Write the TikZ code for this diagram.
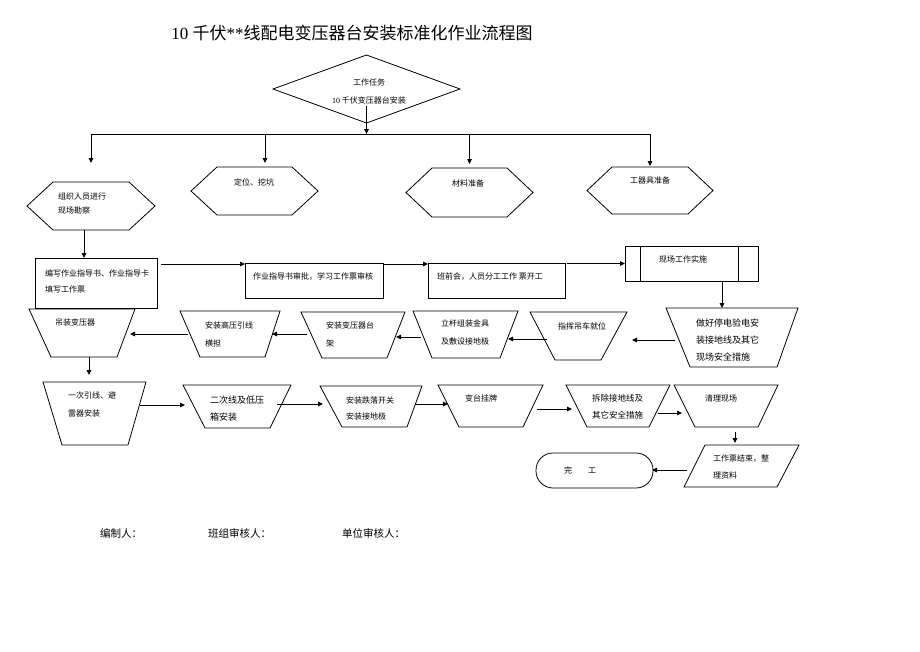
\documentclass[tikz,border=0pt]{standalone}
\usepackage{fontspec}
\setmainfont{Liberation Serif}
\newfontfamily\cjk{Noto Sans CJK SC}
\usepackage{tikz}
\usetikzlibrary{arrows.meta, shapes.geometric}

% outlines drawn round an empty holder node
\newcommand{\hexout}[2]{\draw[outline] (#1.west) -- ([xshift=#2]#1.north west) -- ([xshift=-#2]#1.north east) -- (#1.east) -- ([xshift=-#2]#1.south east) -- ([xshift=#2]#1.south west) -- cycle;}
\newcommand{\trapout}[3]{\draw[outline] (#1.north west) -- (#1.north east) -- ([xshift=-#3]#1.south east) -- ([xshift=#2]#1.south west) -- cycle;}
\newcommand{\slantout}[3]{\draw[outline] ([xshift=#2]#1.north west) -- (#1.north east) -- ([xshift=-#3]#1.south east) -- (#1.south west) -- cycle;}

\begin{document}
\begin{tikzpicture}[x=1pt, y=-1pt,
  outline/.style={draw=black, line width=0.8pt, line join=miter},
  slot/.style={inner sep=0pt, outer sep=0pt},
  boxed/.style={draw=black, line width=0.8pt, inner sep=0pt, outer sep=0pt},
  txt/.style={font=\cjk\fontsize{8}{17}\selectfont, inner sep=0pt, align=left},
  arr/.style={-{Triangle[length=5pt,width=4.5pt]}, line width=0.9pt},
]
\fill[white] (0,0) rectangle (920,651);
\useasboundingbox (0,0) rectangle (920,651);

% title
\node[font=\fontsize{17}{20}\selectfont] (title) at (352,33) {10 {\cjk 千伏}**{\cjk 线配电变压器台安装标准化作业流程图}};

% task
\node[draw, diamond, line width=0.8pt, inner sep=0pt, outer sep=0pt, minimum width=187, minimum height=68] (task) at (366.5,89) {};
\node[txt, align=center, font=\cjk\fontsize{8}{18}\selectfont] (task-t) at (369,91) {工作任务\\{\rmfamily 10} 千伏变压器台安装};
\coordinate (bus) at (366.5,134);

% preparation
\node[slot, minimum width=128, minimum height=48] (survey) at (91,206) {};
\hexout{survey}{26}
\node[txt, anchor=west] (survey-t) at (58,203) {组织人员进行\\[-3pt]现场勘察};
\node[slot, minimum width=127, minimum height=48] (pit) at (254.5,191) {};
\hexout{pit}{26}
\node[txt] (pit-t) at (254,182) {定位、挖坑};
\node[slot, minimum width=127, minimum height=49] (material) at (469.5,192.5) {};
\hexout{material}{26}
\node[txt] (material-t) at (468,183) {材料准备};
\node[slot, minimum width=126, minimum height=47] (tools) at (650,190.5) {};
\hexout{tools}{25}
\node[txt] (tools-t) at (650,180) {工器具准备};

% paperwork
\node[boxed, minimum width=122, minimum height=50] (prep) at (96,283) {};
\node[txt, anchor=west] (prep-t) at (45,281) {编写作业指导书、作业指导卡\\[-1pt]填写工作票};
\node[boxed, minimum width=138, minimum height=35] (approve) at (314,280.5) {};
\node[txt, anchor=west] (approve-t) at (253,277) {作业指导书审批，学习工作票审核};
\node[boxed, minimum width=137, minimum height=35] (brief) at (496.5,280.5) {};
\node[txt, anchor=west] (brief-t) at (437,277) {班前会，人员分工工作 票开工};
\node[boxed, minimum width=133, minimum height=35] (impl) at (691.5,263.5) {};
\draw[outline] ([xshift=15]impl.north west) -- ([xshift=15]impl.south west);
\draw[outline] ([xshift=-20]impl.north east) -- ([xshift=-20]impl.south east);
\node[txt] (impl-t) at (683,259) {现场工作实施};

% erection, right to left
\node[slot, minimum width=132, minimum height=59] (safety) at (732,337.5) {};
\trapout{safety}{24}{21}
\node[txt, anchor=west, font=\cjk\fontsize{9}{17}\selectfont] (safety-t) at (696,340) {做好停电验电安\\装接地线及其它\\现场安全措施};
\node[slot, minimum width=97, minimum height=48] (crane) at (578.5,336) {};
\trapout{crane}{25}{26}
\node[txt] (crane-t) at (582,326) {指挥吊车就位};
\node[slot, minimum width=105, minimum height=47] (pole) at (465.5,334.5) {};
\trapout{pole}{19}{18}
\node[txt, anchor=west] (pole-t) at (441,332) {立杆组装金具\\[1pt]及敷设接地极};
\node[slot, minimum width=104, minimum height=46] (frame) at (353,335) {};
\trapout{frame}{21}{18}
\node[txt, anchor=west] (frame-t) at (326,334) {安装变压器台\\[1pt]架};
\node[slot, minimum width=100, minimum height=46] (crossarm) at (230,334) {};
\trapout{crossarm}{20}{15}
\node[txt, anchor=west] (crossarm-t) at (205,334) {安装高压引线\\[1pt]横担};
\node[slot, minimum width=106, minimum height=48] (hoist) at (82,333) {};
\trapout{hoist}{22}{18}
\node[txt, anchor=west] (hoist-t) at (55,322) {吊装变压器};

% wiring and closing, left to right
\node[slot, minimum width=103, minimum height=63] (lead1) at (94.5,413.5) {};
\trapout{lead1}{19}{18}
\node[txt, anchor=west] (lead1-t) at (68,404) {一次引线、避\\[1pt]雷器安装};
\node[slot, minimum width=108, minimum height=43] (lowbox) at (237,406.5) {};
\trapout{lowbox}{22}{21}
\node[txt, anchor=west, font=\cjk\fontsize{9}{17}\selectfont] (lowbox-t) at (210,408.5) {二次线及低压\\箱安装};
\node[slot, minimum width=102, minimum height=41] (fuse) at (371,406.5) {};
\trapout{fuse}{22}{15}
\node[txt, anchor=west] (fuse-t) at (346,408) {安装跌落开关\\[-1pt]安装接地极};
\node[slot, minimum width=105, minimum height=42] (sign) at (490.5,406) {};
\trapout{sign}{21}{20}
\node[txt, anchor=west] (sign-t) at (465,398) {变台挂牌};
\node[slot, minimum width=104, minimum height=42] (remove) at (618,406) {};
\trapout{remove}{21}{21}
\node[txt, anchor=west, font=\cjk\fontsize{8.5}{17}\selectfont] (remove-t) at (592,406.5) {拆除接地线及\\其它安全措施};
\node[slot, minimum width=104, minimum height=42] (clean) at (726,406) {};
\trapout{clean}{21}{20}
\node[txt] (clean-t) at (721,398) {清理现场};
\node[slot, minimum width=115, minimum height=42] (report) at (741.5,466) {};
\slantout{report}{21}{22}
\node[txt, anchor=west] (report-t) at (713,466.5) {工作票结束，整\\理资料};
\node[draw, line width=0.8pt, rounded corners=17pt, inner sep=0pt, outer sep=0pt, minimum width=117, minimum height=35] (done) at (594.5,470.5) {};
\node[txt] (done-t) at (580,470) {完\hspace{16pt}工};

% signatures
\node[txt, anchor=west, font=\cjk\fontsize{10.5}{12}\selectfont] (editor) at (100,533) {编制人：};
\node[txt, anchor=west, font=\cjk\fontsize{10.5}{12}\selectfont] (team) at (208,533) {班组审核人：};
\node[txt, anchor=west, font=\cjk\fontsize{10.5}{12}\selectfont] (unit) at (342,533) {单位审核人：};

% branch to the four preparations
\draw[arr] ([yshift=-17]task.center) -- (task.center |- bus);
\draw[line width=0.9pt] (survey.north |- bus) -- (tools.north |- bus);
\draw[arr] (survey.north |- bus) -- ([yshift=19]survey.north);
\draw[arr] ([xshift=10.5]pit.north |- bus) -- ([xshift=10.5,yshift=4]pit.north);
\draw[arr] (material.north |- bus) -- ([yshift=4]material.north);
\draw[arr] (tools.north |- bus) -- ([yshift=1]tools.north);

% main sequence
\draw[arr] ([xshift=-7]survey.south) -- ([xshift=-7]survey.south |- prep.north);
\draw[arr] ([xshift=4,yshift=-6]prep.north east) -- ([yshift=-1]approve.north west);
\draw[arr] ([yshift=-1]approve.north east) -- ([yshift=-1]brief.north west);
\draw[arr] ([xshift=2]brief.north east |- impl.west) -- (impl.west);
\draw[arr] ([xshift=30.5]impl.south) -- ([xshift=30.5]impl.south |- safety.north);
\draw[arr] ([xshift=9,yshift=-2.5]safety.west) -- ([xshift=5,yshift=-4]crane.east);
\draw[arr] ([xshift=17,yshift=-3]crane.west) -- ([xshift=-10,yshift=-4.5]pole.east);
\draw[arr] ([xshift=8,yshift=-2.5]pole.west) -- ([xshift=-9,yshift=-2]frame.east);
\draw[arr] ([xshift=6,yshift=1]frame.west) -- ([xshift=-8]crossarm.east);
\draw[arr] ([xshift=8]crossarm.west) -- ([xshift=-5,yshift=-1]hoist.east);
\draw[arr] ([xshift=7]hoist.south) -- ([xshift=7,yshift=7]hoist.south |- lead1.north);
\draw[arr] ([xshift=-6,yshift=8.5]lead1.east) -- ([xshift=2,yshift=1.5]lowbox.west);
\draw[arr] ([xshift=-14,yshift=2.5]lowbox.east) -- ([xshift=3,yshift=2.5]fuse.west);
\draw[arr] ([xshift=-7,yshift=2.5]fuse.east) -- ([xshift=10,yshift=2]sign.west);
\draw[arr] ([xshift=-6,yshift=-3]sign.east) -- ([xshift=6,yshift=-3]remove.west);
\draw[arr] ([xshift=-12,yshift=-7]remove.east) -- ([xshift=8,yshift=-7]clean.west);
\draw[arr] ([xshift=9,yshift=-5]clean.south) -- ([xshift=9,yshift=2]clean.south |- report.north);
\draw[arr] ([xshift=3,yshift=-4]report.west) -- ([xshift=-1,yshift=0.5]done.east);
\end{tikzpicture}
\end{document}
